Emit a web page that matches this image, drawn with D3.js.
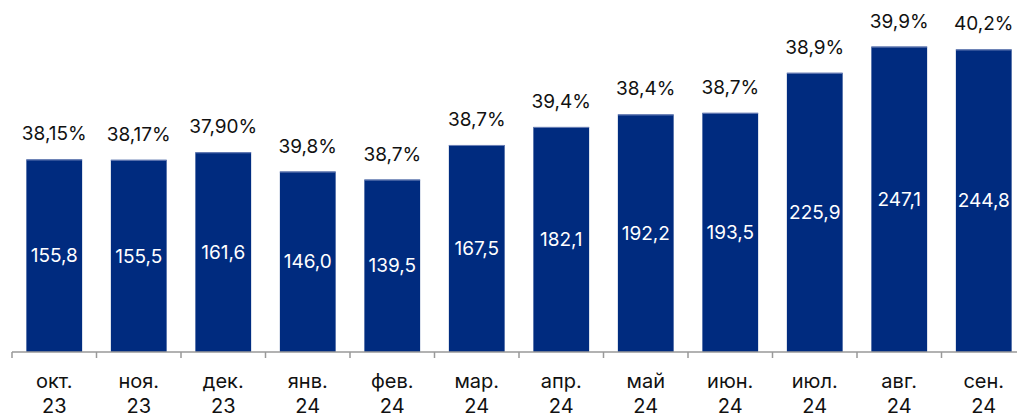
<!DOCTYPE html>
<html>
<head>
<meta charset="utf-8">
<script src="https://cdn.jsdelivr.net/npm/d3@7"></script>
<style>
  body { margin: 0; background: #fff; }
  text { font-family: "Inter", "Noto Sans", sans-serif; }
</style>
</head>
<body>
<div id="chart"></div>
<script>
// data
var months = ["окт.", "ноя.", "дек.", "янв.", "фев.", "мар.", "апр.", "май", "июн.", "июл.", "авг.", "сен."];
var years = ["23", "23", "23", "24", "24", "24", "24", "24", "24", "24", "24", "24"];
var values = [155.8, 155.5, 161.6, 146.0, 139.5, 167.5, 182.1, 192.2, 193.5, 225.9, 247.1, 244.8];
var shares = ["38,15%", "38,17%", "37,90%", "39,8%", "38,7%", "38,7%", "39,4%", "38,4%", "38,7%", "38,9%", "39,9%", "40,2%"];

var svgWidth = 1017;
var svgHeight = 419;

var data = months.map(function(m, i) {
  return { key: i, month: m, year: years[i], value: values[i], share: shares[i] };
});

var svg = d3.select("#chart")
  .append("svg")
  .attr("width", svgWidth)
  .attr("height", svgHeight);

var x = d3.scaleBand()
  .domain(data.map(d => d.key))
  .range([12, 1026])
  .paddingInner(0.34)
  .paddingOuter(0.17);

var y = d3.scaleLinear()
  .domain([0, 284.8])
  .range([352, 0]);

// bars
svg.selectAll("rect.bar")
  .data(data)
  .enter()
  .append("rect")
  .attr("class", "bar")
  .attr("x", d => x(d.key))
  .attr("y", d => y(d.value))
  .attr("width", x.bandwidth())
  .attr("height", d => y(0) - y(d.value))
  .attr("fill", "#002B7F");

// thin lighter edge on top of each bar
svg.selectAll("line.edge")
  .data(data)
  .enter()
  .append("line")
  .attr("x1", d => x(d.key))
  .attr("x2", d => x(d.key) + x.bandwidth())
  .attr("y1", d => y(d.value) + 0.5)
  .attr("y2", d => y(d.value) + 0.5)
  .attr("stroke", "#6f83b8")
  .attr("stroke-width", 1);

// value inside bars
svg.selectAll("text.val")
  .data(data)
  .enter()
  .append("text")
  .attr("class", "val")
  .attr("x", d => x(d.key) + x.bandwidth() / 2)
  .attr("y", d => (y(d.value) + y(0)) / 2)
  .attr("dy", "0.35em")
  .attr("text-anchor", "middle")
  .attr("fill", "#fff")
  .style("font-size", "19px")
  .text(d => d.value.toFixed(1).replace(".", ","));

// share above bars
svg.selectAll("text.share")
  .data(data)
  .enter()
  .append("text")
  .attr("class", "share")
  .attr("x", d => x(d.key) + x.bandwidth() / 2)
  .attr("y", d => y(d.value) - 19)
  .attr("text-anchor", "middle")
  .attr("fill", "#111")
  .style("font-size", "19px")
  .text(d => d.share);

// axis line and ticks between categories
var axis = svg.append("g");
axis.append("line")
  .attr("x1", 12)
  .attr("x2", svgWidth)
  .attr("y1", 352)
  .attr("y2", 352)
  .attr("stroke", "#999")
  .attr("stroke-width", 1.5);

var step = x.step();
axis.selectAll("line.tick")
  .data(d3.range(13))
  .enter()
  .append("line")
  .attr("class", "tick")
  .attr("x1", i => 12 + i * step)
  .attr("x2", i => 12 + i * step)
  .attr("y1", 352)
  .attr("y2", 358)
  .attr("stroke", "#999")
  .attr("stroke-width", 1.5);

// category labels, two lines
var cat = svg.selectAll("text.cat")
  .data(data)
  .enter()
  .append("text")
  .attr("class", "cat")
  .attr("text-anchor", "middle")
  .attr("fill", "#111")
  .style("font-size", "20px");

cat.append("tspan")
  .attr("x", d => x(d.key) + x.bandwidth() / 2)
  .attr("y", 388)
  .text(d => d.month);

cat.append("tspan")
  .attr("x", d => x(d.key) + x.bandwidth() / 2)
  .attr("y", 413)
  .text(d => d.year);
</script>
</body>
</html>
